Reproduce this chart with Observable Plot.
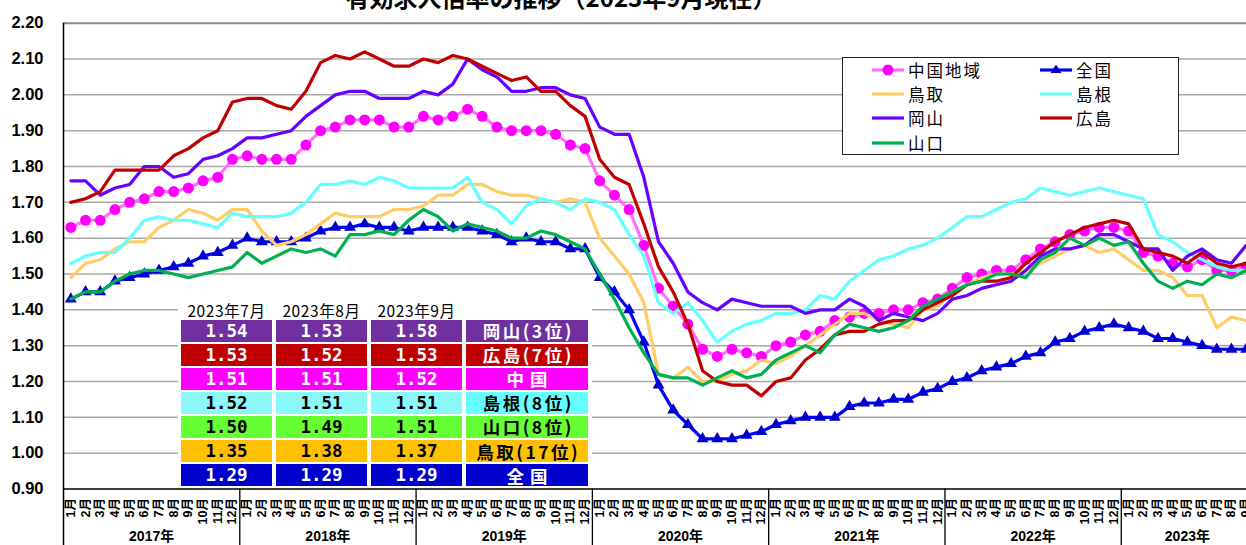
<!DOCTYPE html>
<html><head><meta charset="utf-8">
<script src="https://cdn.jsdelivr.net/npm/d3@7"></script>
<script src="https://cdn.jsdelivr.net/npm/@observablehq/plot@0.6"></script>
<style>
html,body{margin:0;padding:0;background:#fff;overflow:hidden;}
#wrap{position:relative;width:1246px;height:545px;overflow:hidden;background:#fff;}
#chart{position:absolute;left:0;top:0;}
#title{position:absolute;left:0;width:1122px;top:-15px;text-align:center;font-family:"Noto Sans CJK JP",sans-serif;font-weight:bold;font-size:24px;line-height:24px;color:#000;white-space:nowrap;}
.abs{position:absolute;box-sizing:border-box;}
.cell{display:flex;align-items:center;justify-content:center;white-space:nowrap;}
</style></head>
<body><div id="wrap"><div id="chart"></div><div id="title">有効求人倍率の推移（2023年9月現在）</div></div>
<script>
// ---- data ----
const years = [2017, 2018, 2019, 2020, 2021, 2022, 2023];
const monthsPerYear = [12, 12, 12, 12, 12, 12, 9];
const yTicks = [0.9, 1.0, 1.1, 1.2, 1.3, 1.4, 1.5, 1.6, 1.7, 1.8, 1.9, 2.0, 2.1, 2.2];

const seriesNames = ["中国地域", "全国", "鳥取", "島根", "岡山", "広島", "山口"];
const seriesColors = ["#FF70FF", "#0000FF", "#FFCC66", "#66FFFF", "#6600FF", "#C00000", "#00B050"];

const chugoku = [1.63,1.65,1.65,1.68,1.70,1.71,1.73,1.73,1.74,1.76,1.77,1.82,
 1.83,1.82,1.82,1.82,1.86,1.90,1.91,1.93,1.93,1.93,1.91,1.91,
 1.94,1.93,1.94,1.96,1.94,1.91,1.90,1.90,1.90,1.89,1.86,1.85,
 1.76,1.72,1.68,1.58,1.46,1.41,1.36,1.29,1.27,1.29,1.28,1.27,
 1.30,1.31,1.33,1.34,1.37,1.38,1.39,1.39,1.40,1.40,1.42,1.43,
 1.46,1.49,1.50,1.51,1.51,1.54,1.57,1.59,1.61,1.62,1.63,1.63,
 1.62,1.56,1.55,1.53,1.52,1.54,1.51,1.51,1.52];
const national = [1.43,1.45,1.45,1.48,1.49,1.50,1.51,1.52,1.53,1.55,1.56,1.58,
 1.60,1.59,1.59,1.59,1.60,1.62,1.63,1.63,1.64,1.63,1.63,1.62,
 1.63,1.63,1.63,1.63,1.62,1.61,1.59,1.60,1.59,1.59,1.57,1.57,
 1.49,1.45,1.40,1.31,1.19,1.12,1.08,1.04,1.04,1.04,1.05,1.06,
 1.08,1.09,1.10,1.10,1.10,1.13,1.14,1.14,1.15,1.15,1.17,1.18,
 1.20,1.21,1.23,1.24,1.25,1.27,1.28,1.31,1.32,1.34,1.35,1.36,
 1.35,1.34,1.32,1.32,1.31,1.30,1.29,1.29,1.29];
const tottori = [1.49,1.53,1.54,1.57,1.59,1.59,1.63,1.65,1.68,1.67,1.65,1.68,
 1.68,1.62,1.58,1.59,1.61,1.64,1.67,1.66,1.66,1.66,1.68,1.68,
 1.69,1.72,1.72,1.75,1.75,1.73,1.72,1.72,1.71,1.70,1.71,1.70,
 1.60,1.55,1.50,1.42,1.22,1.21,1.24,1.20,1.20,1.22,1.23,1.26,
 1.25,1.27,1.30,1.33,1.36,1.39,1.39,1.37,1.36,1.35,1.40,1.41,
 1.45,1.47,1.49,1.50,1.50,1.51,1.53,1.55,1.57,1.58,1.56,1.57,
 1.54,1.51,1.51,1.49,1.44,1.44,1.35,1.38,1.37];
const shimane = [1.53,1.55,1.56,1.56,1.60,1.65,1.66,1.65,1.65,1.64,1.63,1.67,
 1.66,1.66,1.66,1.67,1.70,1.75,1.75,1.76,1.75,1.77,1.76,1.74,
 1.74,1.74,1.74,1.77,1.70,1.68,1.64,1.69,1.71,1.70,1.68,1.71,
 1.70,1.68,1.61,1.55,1.42,1.39,1.42,1.37,1.31,1.34,1.36,1.37,
 1.39,1.39,1.40,1.44,1.43,1.48,1.51,1.54,1.55,1.57,1.58,1.60,
 1.63,1.66,1.66,1.68,1.70,1.71,1.74,1.73,1.72,1.73,1.74,1.73,
 1.72,1.71,1.61,1.59,1.56,1.54,1.52,1.51,1.51];
const okayama = [1.76,1.76,1.72,1.74,1.75,1.80,1.80,1.77,1.78,1.82,1.83,1.85,
 1.88,1.88,1.89,1.90,1.94,1.97,2.00,2.01,2.01,1.99,1.99,1.99,
 2.01,2.00,2.03,2.10,2.07,2.05,2.01,2.01,2.02,2.02,2.00,1.99,
 1.91,1.89,1.89,1.77,1.59,1.53,1.45,1.42,1.40,1.43,1.42,1.41,
 1.41,1.41,1.39,1.40,1.40,1.43,1.41,1.37,1.39,1.38,1.37,1.39,
 1.43,1.44,1.46,1.47,1.48,1.51,1.55,1.57,1.57,1.58,1.61,1.61,
 1.59,1.57,1.57,1.51,1.55,1.57,1.54,1.53,1.58];
const hiroshima = [1.70,1.71,1.73,1.79,1.79,1.79,1.79,1.83,1.85,1.88,1.90,1.98,
 1.99,1.99,1.97,1.96,2.01,2.09,2.11,2.10,2.12,2.10,2.08,2.08,
 2.10,2.09,2.11,2.10,2.08,2.06,2.04,2.05,2.01,2.01,1.97,1.94,
 1.82,1.77,1.75,1.64,1.52,1.45,1.36,1.23,1.20,1.19,1.19,1.16,
 1.20,1.21,1.26,1.29,1.33,1.34,1.34,1.36,1.37,1.37,1.40,1.42,
 1.44,1.47,1.48,1.48,1.49,1.53,1.56,1.59,1.61,1.63,1.64,1.65,
 1.64,1.57,1.56,1.55,1.53,1.56,1.53,1.52,1.53];
const yamaguchi = [1.43,1.45,1.45,1.48,1.50,1.51,1.51,1.50,1.49,1.50,1.51,1.52,
 1.56,1.53,1.55,1.57,1.56,1.57,1.55,1.61,1.61,1.62,1.61,1.65,
 1.68,1.66,1.62,1.64,1.63,1.62,1.60,1.60,1.62,1.61,1.59,1.57,
 1.50,1.43,1.35,1.28,1.22,1.21,1.21,1.19,1.21,1.23,1.21,1.22,
 1.26,1.28,1.30,1.28,1.33,1.36,1.35,1.34,1.35,1.37,1.41,1.43,
 1.45,1.47,1.48,1.50,1.50,1.49,1.54,1.56,1.60,1.58,1.60,1.58,
 1.59,1.53,1.48,1.46,1.48,1.47,1.50,1.49,1.51];

const tableHeaders = ["2023年7月", "2023年8月", "2023年9月"];
const tableNames = ["岡山(3位)", "広島(7位)", "中国", "島根(8位)", "山口(8位)", "鳥取(17位)", "全国"];
const tableJul = [1.54, 1.53, 1.51, 1.52, 1.50, 1.35, 1.29];
const tableAug = [1.53, 1.52, 1.51, 1.51, 1.49, 1.38, 1.29];
const tableSep = [1.58, 1.53, 1.52, 1.51, 1.51, 1.37, 1.29];

// ---- build tables for Plot ----
const seriesValues = [chugoku, national, tottori, shimane, okayama, hiroshima, yamaguchi];
const rows = [];
seriesValues.forEach((arr, s) => arr.forEach((v, i) => rows.push({s, i, v})));
const months = [];
const yearRows = [];
const yearBounds = [];
let idx = 0;
years.forEach((yr, k) => {
  const start = idx;
  for (let m = 1; m <= monthsPerYear[k]; m++) { months.push({i: idx, label: m + "月"}); idx++; }
  yearRows.push({c: (start + idx - 1) / 2, label: yr + "年"});
  if (k > 0) yearBounds.push(start - 0.5);
});

const seriesMarks = [];
seriesValues.forEach((arr, s) => {
  const d = rows.filter(r => r.s === s);
  seriesMarks.push(Plot.line(d, {x: "i", y: "v", stroke: seriesColors[s], strokeWidth: 3.2, strokeLinejoin: "round"}));
  if (s === 0) seriesMarks.push(Plot.dot(d, {x: "i", y: "v", r: 5.5, fill: "#FF00FF", stroke: "none"}));
  if (s === 1) seriesMarks.push(Plot.dot(d, {x: "i", y: "v", r: 4.4, symbol: "triangle", fill: "#0000CC", stroke: "none"}));
});

const chart = Plot.plot({
  width: 1246, height: 545,
  marginLeft: 63, marginRight: -7, marginTop: 22.7, marginBottom: 56.5,
  x: {type: "linear", domain: [-0.5, idx - 0.5], axis: null},
  y: {type: "linear", domain: [0.9, 2.2], axis: null},
  style: {fontFamily: "'Liberation Sans', 'Noto Sans CJK JP', sans-serif", background: "white", color: "#000"},
  marks: [
    Plot.ruleY(yTicks.filter(v => v > 0.95 && v < 2.15), {stroke: "#a9a9a9", strokeWidth: 1.5}),
    Plot.ruleY([2.2], {stroke: "#8a8a8a", strokeWidth: 2}),
    ...seriesMarks,
    Plot.ruleY([0.9], {stroke: "#000", strokeWidth: 1.5}),
    Plot.ruleX([-0.5], {stroke: "#000", strokeWidth: 1.5, insetBottom: -70}),
    Plot.ruleX(yearBounds, {y1: 0.9, y2: 0.9, insetBottom: -70, stroke: "#000", strokeWidth: 1.3}),
    Plot.text(yTicks, {y: d => d, text: d => d.toFixed(2), frameAnchor: "left", textAnchor: "end", lineAnchor: "middle", dx: -20, fontSize: 16.5, fontWeight: "bold", fill: "#000"}),
    Plot.text(months, {x: "i", text: "label", frameAnchor: "bottom", dy: 9, rotate: -90, textAnchor: "end", lineAnchor: "middle", fontSize: 12.5, fontWeight: "bold", fill: "#000"}),
    Plot.text(yearRows, {x: "c", text: "label", frameAnchor: "bottom", dy: 48, lineAnchor: "middle", fontSize: 14, fontWeight: "bold", fill: "#000"})
  ]
});
document.getElementById("chart").appendChild(chart);

const wrap = document.getElementById("wrap");
function el(html) { const t = document.createElement("div"); t.innerHTML = html; const n = t.firstChild; wrap.appendChild(n); return n; }

// ---- legend ----
el(`<div class="abs" style="left:842px;top:57px;width:337px;height:98px;border:1.3px solid #222;background:#fff"></div>`);
seriesNames.forEach((name, k) => {
  const row = Math.floor(k / 2), col = k % 2;
  const cy = 69.5 + row * 24.4;
  const sx = col === 0 ? 871 : 1039;
  const tx = col === 0 ? 908 : 1076;
  let svg = `<svg class="abs" width="34" height="14" style="left:${sx}px;top:${cy - 7}px;overflow:visible"><line x1="1" x2="33" y1="7" y2="7" stroke="${seriesColors[k]}" stroke-width="3.2"/>`;
  if (k === 0) svg += `<circle cx="17" cy="7" r="5.5" fill="#FF00FF"/>`;
  if (k === 1) svg += `<path d="M17,1.5 L22.5,10 L11.5,10 Z" fill="#0000CC"/>`;
  svg += `</svg>`;
  el(svg);
  el(`<div class="abs" style="left:${tx}px;top:${cy - 12}px;height:24px;line-height:24px;font-family:'Noto Sans CJK JP';font-size:16.5px;letter-spacing:2px;color:#000;white-space:nowrap">${name}</div>`);
});

// ---- table overlay ----
const valueFill = ["#7030A0", "#C00000", "#FF00FF", "#8CF7F7", "#66FF33", "#FFC000", "#0000CC"];
const labelFill = ["#7030A0", "#C00000", "#FF00FF", "#66FFFF", "#66FF33", "#FFC000", "#0000CC"];
const textFill = ["#fff", "#fff", "#fff", "#000", "#000", "#000", "#fff"];
el(`<div class="abs" style="left:178px;top:297px;width:414px;height:191px;background:#fff"></div>`);
const colX = [181, 276, 371];
const colW = 91;
tableHeaders.forEach((h, c) => {
  el(`<div class="abs cell" style="left:${colX[c]}px;top:299px;width:${colW}px;height:22px;font-family:'Noto Sans CJK JP';font-size:15.5px;letter-spacing:0.6px;color:#000">${h}</div>`);
});
const cols = [tableJul, tableAug, tableSep];
tableNames.forEach((name, r) => {
  const top = 320 + r * 24.05;
  cols.forEach((arr, c) => {
    el(`<div class="abs cell" style="left:${colX[c]}px;top:${top}px;width:${colW}px;height:21.5px;background:${valueFill[r]};color:${textFill[r]};font-family:'DejaVu Sans Mono';font-weight:bold;font-size:17.5px">${arr[r].toFixed(2)}</div>`);
  });
  el(`<div class="abs cell" style="left:466px;top:${top}px;width:122px;height:21.5px;background:${labelFill[r]};color:${textFill[r]};font-family:'Noto Sans CJK JP';font-weight:bold;font-size:17.5px;letter-spacing:${name.length <= 2 ? 6 : 2.5}px;padding-left:${name.length <= 2 ? 6 : 2.5}px">${name}</div>`);
});
</script>
</body></html>
